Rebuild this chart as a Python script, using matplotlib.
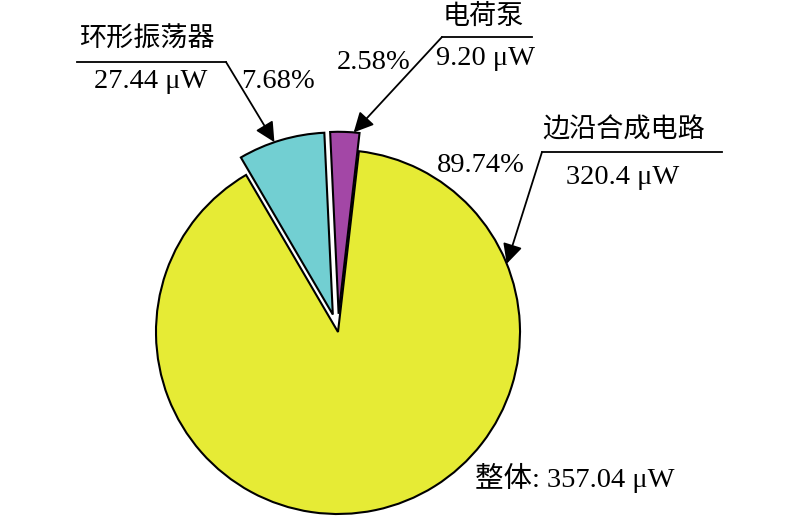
import numpy as np
import matplotlib
matplotlib.use('Agg')
from matplotlib import pyplot as plt

# power split of the whole circuit (uW)
names = ['电荷泵', '环形振荡器', '边沿合成电路']
powers = [9.20, 27.44, 320.4]
power_labels = ['9.20 μW', '27.44 μW', '320.4 μW']
pct_labels = ['2.58%', '7.68%', '89.74%']
total_label = '整体: 357.04 μW'
colors = ['#A347A6', '#72CFD2', '#E6EB35']
explode = [0.1, 0.1, 0]

W, H = 800, 520
cx, cy, R = 338, 332, 182   # pie centre / radius in pixels

fig = plt.figure(figsize=(8, 5.2), dpi=100)
ax = fig.add_axes([0, 0, 1, 1])
wedges, _ = ax.pie(powers, explode=explode, colors=colors, startangle=83.4,
                   counterclock=True,
                   wedgeprops=dict(edgecolor='black', linewidth=1.5))
ax.set_xlim(-cx / R, (W - cx) / R)
ax.set_ylim(-(H - cy) / R, cy / R)
ax.set_aspect('equal')
ax.axis('off')

font = ['Liberation Serif', 'Noto Sans CJK SC']
fs = 20.5


def px(x, y):
    return ((x - cx) / R, (cy - y) / R)


def on_arc(w, frac):
    t = np.radians(w.theta1 + frac * (w.theta2 - w.theta1))
    return (w.center[0] + w.r * np.cos(t), w.center[1] + w.r * np.sin(t))


def put(x, y, s, size=fs, weight='normal'):
    ax.text(*px(x, y), s, ha='center', va='center', fontsize=size,
            family=font, fontweight=weight)


# layout: leader line (x0, x1, y), corner x, name xy, power xy, pct xy, arrow pos
layout = [
    ((442, 532, 37), 442, (483, 17), (485, 58), (374, 62), 0.2),
    ((77, 226, 62), 226, (147, 40), (151, 81), (278, 81), 0.58),
    ((542, 722, 152), 542, (624, 131), (623, 177), (481, 165), 0.81),
]

for w, name, pl, pc, lay in zip(wedges, names, power_labels, pct_labels, layout):
    (x0, x1, ly), corner, nxy, pxy, cxy, frac = lay
    a, b = px(x0, ly)
    c, _ = px(x1, ly)
    ax.plot([a, c], [b, b], color='black', lw=1.3)
    ax.annotate('', xy=on_arc(w, frac), xytext=px(corner, ly),
                arrowprops=dict(arrowstyle='-|>', color='black', lw=1.3,
                                mutation_scale=30, shrinkA=0, shrinkB=0))
    put(*nxy, name, 19.5, 'light')
    put(*pxy, pl)
    put(*cxy, pc)

put(575, 478, total_label)

fig.savefig('out.png', dpi=100)
